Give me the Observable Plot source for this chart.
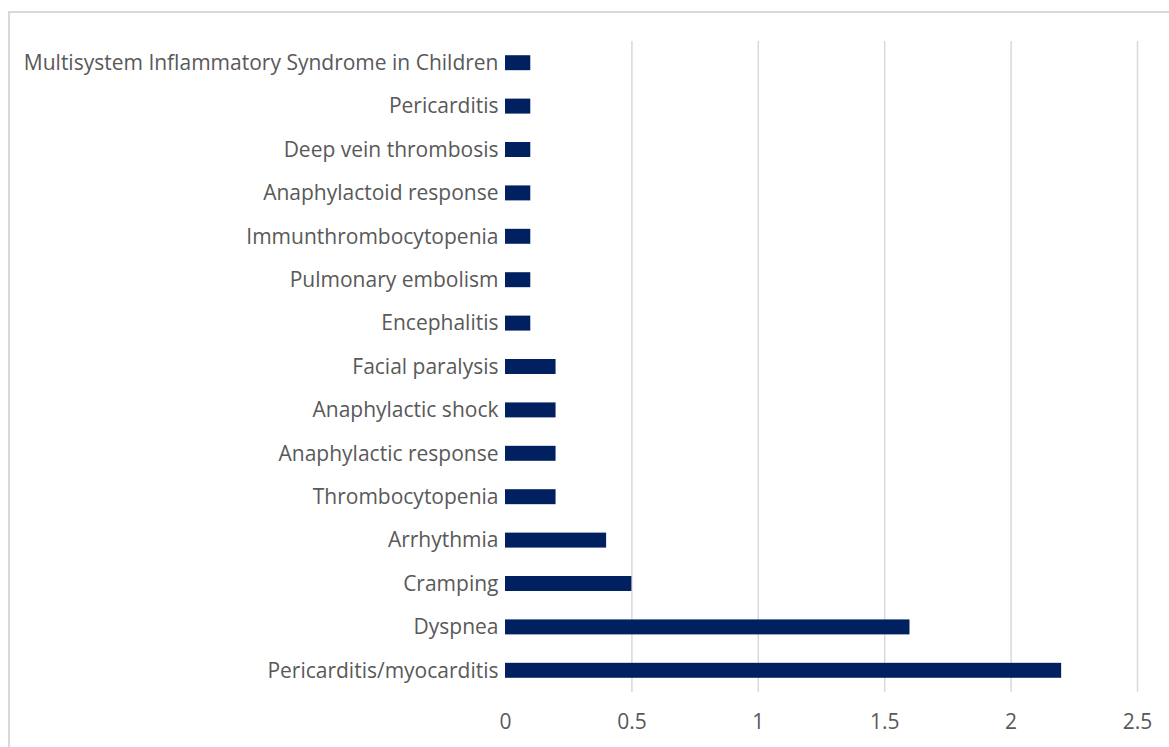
<!DOCTYPE html>
<html>
<head>
<meta charset="utf-8">
<script src="https://cdn.jsdelivr.net/npm/d3@7"></script>
<script src="https://cdn.jsdelivr.net/npm/@observablehq/plot@0.6"></script>
<style>
  html, body { margin: 0; padding: 0; background: #fff; overflow: hidden; }
  #wrap { position: relative; width: 1169px; height: 747px; }
  #box { position: absolute; left: 8px; top: 11px; width: 1200px; height: 800px;
         border: 2px solid #d9d9d9; box-sizing: border-box; pointer-events: none; }
  #chart { position: absolute; left: 0; top: 0; }
</style>
</head>
<body>
<div id="wrap"><div id="chart"></div><div id="box"></div></div>
<script>
// Adverse events, top to bottom
const events = [
  "Multisystem Inflammatory Syndrome in Children",
  "Pericarditis",
  "Deep vein thrombosis",
  "Anaphylactoid response",
  "Immunthrombocytopenia",
  "Pulmonary embolism",
  "Encephalitis",
  "Facial paralysis",
  "Anaphylactic shock",
  "Anaphylactic response",
  "Thrombocytopenia",
  "Arrhythmia",
  "Cramping",
  "Dyspnea",
  "Pericarditis/myocarditis"
];
const values = [0.1, 0.1, 0.1, 0.1, 0.1, 0.1, 0.1, 0.2, 0.2, 0.2, 0.2, 0.4, 0.5, 1.6, 2.2];
const xTicks = [0, 0.5, 1, 1.5, 2, 2.5];

const data = events.map((e, i) => ({event: e, value: values[i]}));

const chart = Plot.plot({
  width: 1169,
  height: 747,
  marginTop: 41,
  marginBottom: 55,
  marginLeft: 505,
  marginRight: 32,
  style: {fontFamily: "'Open Sans', sans-serif", fontSize: "21px", color: "#595959", background: "transparent"},
  x: {domain: [0, 2.5]},
  y: {domain: events, paddingInner: 0.655, paddingOuter: 0.3275, align: 0.5, round: false},
  marks: [
    Plot.ruleX(xTicks.filter(d => d > 0), {stroke: "#d9d9d9", strokeWidth: 1.5}),
    Plot.barX(data, {x: "value", y: "event", fill: "#002060"}),
    Plot.axisX({ticks: xTicks, tickSize: 0, tickPadding: 22, tickFormat: d => String(d),
                fontSize: 21, fill: "#595959", label: null}),
    Plot.axisY({tickSize: 0, tickPadding: 7, fontSize: 21, fill: "#595959", label: null})
  ]
});
document.getElementById("chart").appendChild(chart);
</script>
</body>
</html>
